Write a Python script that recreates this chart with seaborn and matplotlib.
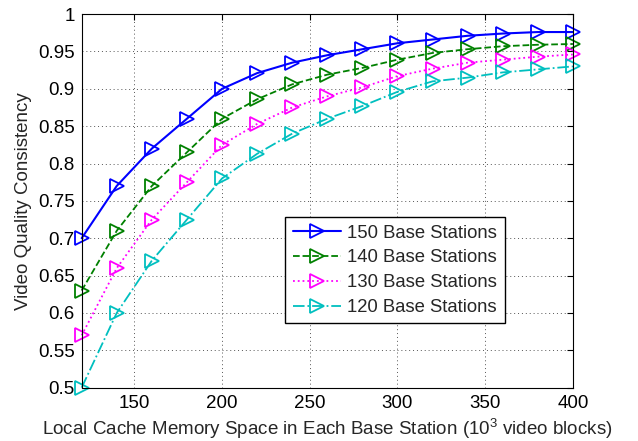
import numpy as np
import pandas as pd
import seaborn as sns
import matplotlib
matplotlib.use('Agg')
import matplotlib.pyplot as plt

# --- data ---
cache_size = [120, 140, 160, 180, 200, 220, 240, 260, 280, 300, 320, 340, 360, 380, 400]

bs_150 = [0.700, 0.770, 0.820, 0.860, 0.900, 0.921, 0.935, 0.945, 0.953, 0.961, 0.966, 0.971, 0.974, 0.976, 0.976]
bs_140 = [0.630, 0.710, 0.770, 0.815, 0.860, 0.886, 0.906, 0.919, 0.928, 0.939, 0.948, 0.953, 0.957, 0.959, 0.960]
bs_130 = [0.570, 0.660, 0.725, 0.775, 0.825, 0.853, 0.875, 0.890, 0.902, 0.917, 0.927, 0.935, 0.939, 0.943, 0.946]
bs_120 = [0.500, 0.600, 0.670, 0.725, 0.780, 0.813, 0.840, 0.860, 0.877, 0.896, 0.910, 0.915, 0.922, 0.926, 0.930]

labels = ['150 Base Stations', '140 Base Stations', '130 Base Stations', '120 Base Stations']
x_ticks = [150, 200, 250, 300, 350, 400]
y_ticks = [0.5, 0.55, 0.6, 0.65, 0.7, 0.75, 0.8, 0.85, 0.9, 0.95, 1.0]
y_tick_labels = ['0.5', '0.55', '0.6', '0.65', '0.7', '0.75', '0.8', '0.85', '0.9', '0.95', '1']

df = pd.DataFrame({
    'cache': cache_size * 4,
    'quality': bs_150 + bs_140 + bs_130 + bs_120,
    'series': np.repeat(labels, len(cache_size)),
})

# --- style (matlab-ish) ---
sns.set_style('white')
plt.rcParams['font.family'] = ['Liberation Sans', 'DejaVu Sans']
plt.rcParams['mathtext.fontset'] = 'custom'
plt.rcParams['mathtext.rm'] = 'Liberation Sans'
plt.rcParams['mathtext.it'] = 'Liberation Sans'

fig = plt.figure(figsize=(6.38, 4.41), dpi=100)
ax = fig.add_axes([0.128, 0.121, 0.770, 0.847])

colors = ['#0000ff', '#008000', '#ff00ff', '#00bfbf']
styles = ['-', '--', ':', '-.']
widths = [1.5, 1.3, 1.3, 1.3]

for lab, col, ls, lw in zip(labels, colors, styles, widths):
    sub = df[df['series'] == lab]
    sns.lineplot(data=sub, x='cache', y='quality', ax=ax, color=col, linestyle=ls,
                 linewidth=lw, marker='>', markersize=10, markerfacecolor='none',
                 markeredgecolor=col, markeredgewidth=1.3, label=lab, clip_on=False)

ax.set_xlim(120, 400)
ax.set_ylim(0.5, 1.0)
ax.set_xticks(x_ticks)
ax.set_yticks(y_ticks)
ax.set_yticklabels(y_tick_labels)
ax.tick_params(direction='in', top=True, right=True, length=4, width=0.8,
               labelsize=13.5, colors='black', pad=5)

ax.grid(True, linestyle=(0, (1, 3)), color='#555555', linewidth=0.7)
for sp in ax.spines.values():
    sp.set_color('black')
    sp.set_linewidth(0.8)

ax.set_xlabel(r'Local Cache Memory Space in Each Base Station (10$^3$ video blocks)', fontsize=13.5)
ax.set_ylabel('Video Quality Consistency', fontsize=13.5)

leg = ax.legend(loc='upper right', bbox_to_anchor=(0.861, 0.456), fontsize=13.3,
                frameon=True, fancybox=False, edgecolor='black', framealpha=1,
                handlelength=2.6, handletextpad=0.35, borderpad=0.4,
                labelspacing=0.42, borderaxespad=0)
leg.get_frame().set_linewidth(1.0)

fig.savefig('out.png', dpi=100)
